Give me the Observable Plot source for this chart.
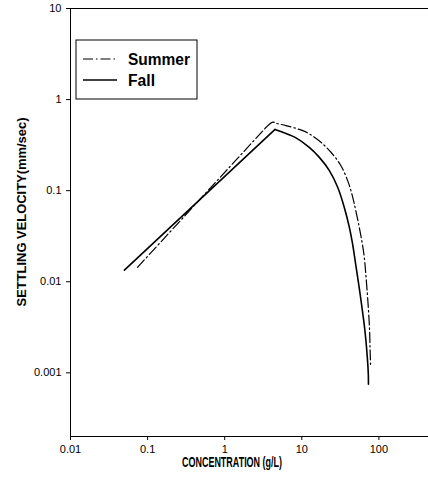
<!DOCTYPE html>
<html>
<head>
<meta charset="utf-8">
<script src="https://cdn.jsdelivr.net/npm/d3@7"></script>
<script src="https://cdn.jsdelivr.net/npm/@observablehq/plot@0.6"></script>
<style>
  html, body { margin: 0; padding: 0; background: #fff; }
  #chart { position: relative; width: 428px; height: 491px; overflow: hidden; }
</style>
</head>
<body>
<div id="chart"></div>
<script>
// ---- data ----
const seriesNames = ["Summer", "Fall"];

const concFall = [0.05, 4.5, 5.66, 8.41, 12.5, 16.9, 22.8, 29.2, 35.6, 41.4, 45.4, 49.9, 57.9, 65.9, 70.8, 72.9, 73.2];
const velFall  = [0.0134, 0.47, 0.437, 0.38, 0.299, 0.232, 0.166, 0.109, 0.0655, 0.0395, 0.0265, 0.0157, 0.00672, 0.0029, 0.00147, 0.00097, 0.00075];

const concSummer = [0.074, 3.44, 4.2, 4.63, 6.24, 10.3, 12.5, 17.7, 23.9, 32.2, 39.3, 43.4, 48.0, 55.7, 63.9, 68.7, 72.9, 75.8, 76.9, 78.1];
const velSummer  = [0.0144, 0.496, 0.566, 0.549, 0.518, 0.456, 0.42, 0.34, 0.264, 0.188, 0.129, 0.1, 0.0714, 0.0395, 0.0201, 0.0103, 0.00522, 0.0029, 0.00175, 0.00119];

const xTicks = [0.01, 0.1, 1, 10, 100];
const xTickLabels = ["0.01", "0.1", "1", "10", "100"];
const yTicks = [0.001, 0.01, 0.1, 1, 10];
const yTickLabels = ["0.001", "0.01", "0.1", "1", "10"];

const xDomain = [0.01, 440];
const yDomain = [0.0002, 10];

const xLabel = "CONCENTRATION (g/L)";
const yLabel = "SETTLING VELOCITY(mm/sec)";

// ---- build tables ----
const toRows = (name, xs, ys) => xs.map((c, i) => ({series: name, conc: c, vel: ys[i]}));
const data = {
  Summer: toRows("Summer", concSummer, velSummer),
  Fall: toRows("Fall", concFall, velFall)
};

const styleFor = {
  Summer: {dash: "10,3,1.5,3", width: 1.2},
  Fall: {dash: null, width: 1.6}
};

const font = "'Liberation Sans', Arial, sans-serif";

// straight rising branch (first two points) + smooth falling branch
const seriesMarks = seriesNames.flatMap(name => {
  const rows = data[name];
  const opts = {x: "conc", y: "vel", stroke: "#000",
    strokeWidth: styleFor[name].width, strokeDasharray: styleFor[name].dash};
  return [
    Plot.line(rows.slice(0, 2), opts),
    Plot.line(rows.slice(1), {...opts, curve: "catmull-rom"})
  ];
});

const plot = Plot.plot({
  width: 428,
  height: 491,
  marginLeft: 70,
  marginRight: 0,
  marginTop: 8,
  marginBottom: 55,
  style: {fontFamily: font, fontSize: "11px", background: "#fff", color: "#000"},
  x: {
    type: "log", domain: xDomain, ticks: xTicks,
    tickFormat: d => xTickLabels[xTicks.indexOf(d)],
    tickSize: 4, tickPadding: 5, label: null, line: true
  },
  y: {
    type: "log", domain: yDomain, ticks: yTicks,
    tickFormat: d => yTickLabels[yTicks.indexOf(d)],
    tickSize: 4, tickPadding: 5, label: null, line: true
  },
  marks: [
    Plot.ruleY([yDomain[1]], {stroke: "#000", strokeWidth: 1}),
    ...seriesMarks
  ]
});

document.getElementById("chart").appendChild(plot);

// ---- axis titles and legend ----
const svg = d3.select(plot);

svg.append("text")
  .attr("x", 232).attr("y", 467)
  .attr("text-anchor", "middle")
  .attr("font-family", font).attr("font-weight", "bold").attr("font-size", 14)
  .attr("textLength", 100).attr("lengthAdjust", "spacingAndGlyphs")
  .attr("fill", "#000")
  .text(xLabel);

svg.append("text")
  .attr("transform", "translate(26,212) rotate(-90)")
  .attr("text-anchor", "middle")
  .attr("font-family", font).attr("font-weight", "bold").attr("font-size", 13)
  .attr("textLength", 189).attr("lengthAdjust", "spacingAndGlyphs")
  .attr("fill", "#000")
  .text(yLabel);

const lg = svg.append("g").attr("transform", "translate(76,40)");
lg.append("rect")
  .attr("x", 0).attr("y", 0).attr("width", 121).attr("height", 59)
  .attr("fill", "#fff").attr("stroke", "#000").attr("stroke-width", 1);
seriesNames.forEach((name, i) => {
  const yy = 19 + i * 21;
  lg.append("line")
    .attr("x1", 7).attr("x2", 41).attr("y1", yy).attr("y2", yy)
    .attr("stroke", "#000").attr("stroke-width", styleFor[name].width)
    .attr("stroke-dasharray", styleFor[name].dash);
  lg.append("text")
    .attr("x", 52).attr("y", yy + 6)
    .attr("text-anchor", "start")
    .attr("font-family", font).attr("font-weight", "bold").attr("font-size", 16)
    .attr("textLength", name === "Summer" ? 62 : 27).attr("lengthAdjust", "spacingAndGlyphs")
    .attr("fill", "#000")
    .text(name);
});
</script>
</body>
</html>
